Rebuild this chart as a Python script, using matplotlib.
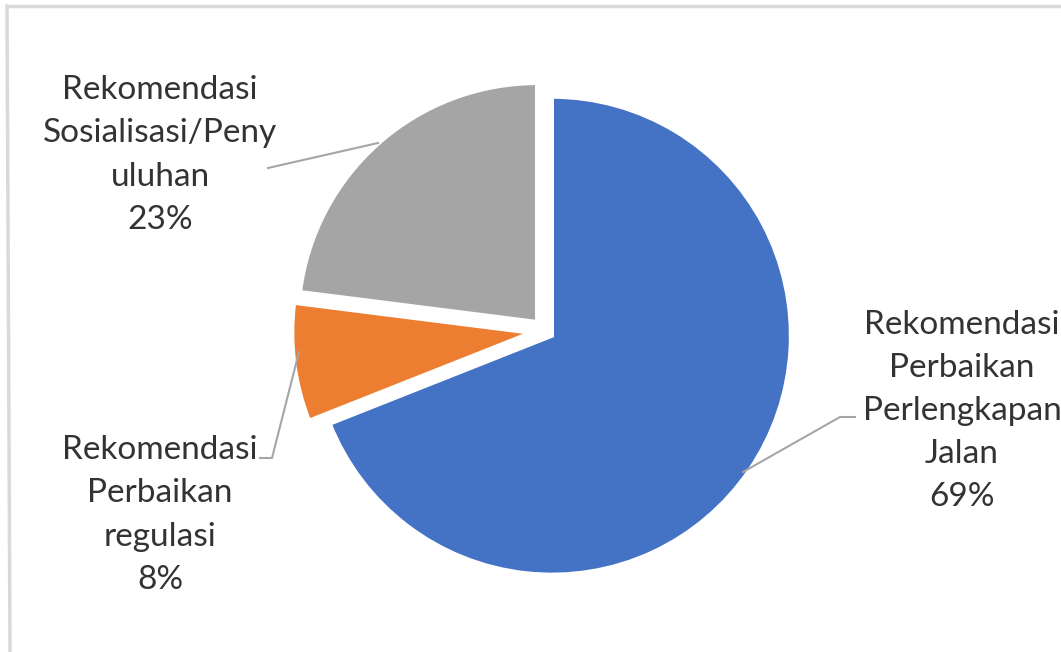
import matplotlib
matplotlib.use('Agg')
import matplotlib.pyplot as plt

# data
labels = ['Rekomendasi\nPerbaikan\nPerlengkapan\nJalan', 'Rekomendasi\nPerbaikan\nregulasi',
          'Rekomendasi\nSosialisasi/Peny\nuluhan']
values = [69, 8, 23]
colors = ['#4472C4', '#ED7D31', '#A5A5A5']
explode = [0.035, 0.058, 0.05]

W, H = 1061, 652
fig = plt.figure(figsize=(W / 100, H / 100), dpi=100)
ax = fig.add_axes([0, 0, 1, 1])

# pie in pixel coords (y up); explode is in data units here, so scale by r
cx, cy, r = 545, H - 331, 239
wedges, _ = ax.pie(values, colors=colors, explode=[e * r for e in explode],
                   startangle=90, counterclock=False, radius=r, center=(cx, cy),
                   wedgeprops=dict(edgecolor='white', linewidth=3))
ax.set_xlim(0, W)
ax.set_ylim(0, H)
ax.set_aspect('auto')
ax.axis('off')

# chart border
ax.plot([8, W], [H - 6, H - 6], color='#d9d9d9', lw=2.5)
ax.plot([7, 10], [H - 6, 0], color='#d9d9d9', lw=2.5)

# data labels
font = 'Lato'
txt = dict(ha='center', va='center', fontsize=24, color='#333333',
           family=font, linespacing=1.55)
pos = [(962, H - 411), (160, H - 515), (160, H - 155)]
for lab, v, (x, y) in zip(labels, values, pos):
    ax.text(x, y, '{}\n{}%'.format(lab, v), **txt)

# leader lines
lc = dict(color='#a6a6a6', lw=1.5)
ax.plot([855, 840, 743], [H - 417, H - 417, H - 472], **lc)
ax.plot([260, 272, 299], [H - 458, H - 458, H - 352], **lc)
ax.plot([268, 378], [H - 168, H - 143], **lc)

fig.savefig('out.png', dpi=100, facecolor='white')
